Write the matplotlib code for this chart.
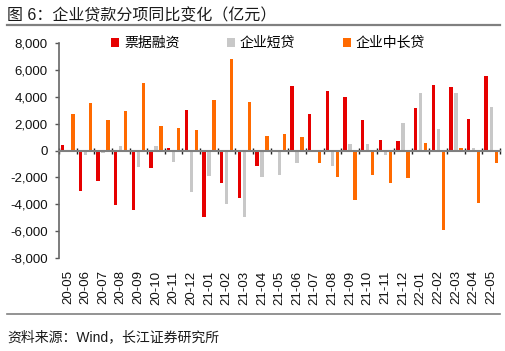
import numpy as np
import matplotlib
matplotlib.use("Agg")
import matplotlib.pyplot as plt
from matplotlib.lines import Line2D
from matplotlib.ticker import FuncFormatter

plt.rcParams['font.family'] = ['Liberation Sans', 'Noto Sans CJK SC']

# —— 数据（亿元）
months = ['20-05', '20-06', '20-07', '20-08', '20-09', '20-10', '20-11', '20-12',
          '21-01', '21-02', '21-03', '21-04', '21-05', '21-06', '21-07', '21-08',
          '21-09', '21-10', '21-11', '21-12', '22-01', '22-02', '22-03', '22-04', '22-05']
bill = [400, -3000, -2250, -4050, -4400, -1300, 150, 3050,
        -4950, -2450, -3550, -1150, 0, 4800, 2750, 4450,
        3950, 2250, 750, 700, 3150, 4850, 4700, 2350, 5550]
short = [0, -300, -200, 350, -1200, 300, -850, -3100,
         -1900, -4000, -4950, -2000, -1800, -900, -100, -1150,
         500, 500, -300, 2050, 4300, 1600, 4300, 150, 3250]
longterm = [2750, 3550, 2250, 2950, 5000, 1850, 1650, 1500,
            3750, 6800, 3600, 1050, 1200, 1000, -950, -2000,
            -3650, -1850, -2400, -2050, 550, -5900, 150, -3900, -950]
series_names = ['票据融资', '企业短贷', '企业中长贷']
colors = ['#E60000', '#C8C8C8', '#FF6A00']

W, H = 505, 351
fig = plt.figure(figsize=(W / 100, H / 100), dpi=100)
ax = fig.add_axes([59 / W, 1 - 258 / H, (500 - 59) / W, (258 - 43) / H])

x = np.arange(len(months))
off = 0.285
bw = 0.19
for k, (vals, name, c) in enumerate(zip([bill, short, longterm], series_names, colors)):
    ax.bar(x + (k - 1) * off, vals, width=bw, color=c, label=name, zorder=2)

ax.set_xlim(-0.5, len(months) - 0.5)
ax.set_ylim(-8000, 8000)
ax.set_yticks(np.arange(-8000, 8001, 2000))
ax.yaxis.set_major_formatter(FuncFormatter(lambda v, p: f"{v:,.0f}"))
ax.tick_params(axis='y', labelsize=9.5, length=3, width=1, color='#555555',
               direction='out', pad=5, labelcolor='#111111')

for s in ['top', 'right']:
    ax.spines[s].set_visible(False)
ax.spines['left'].set_color('#666666')
ax.spines['left'].set_linewidth(1.2)

# 零轴 + 类别分隔刻度
ax.spines['bottom'].set_position(('data', 0))
ax.spines['bottom'].set_color('#7F7F7F')
ax.spines['bottom'].set_linewidth(1.5)
ax.spines['bottom'].set_zorder(3)
ax.set_xticks(np.arange(-0.5, len(months), 1.0))
ax.tick_params(axis='x', direction='inout', length=4, width=1, color='#222222',
               labelbottom=False)

# 月份标签放在底部
sec = ax.secondary_xaxis('bottom')
sec.set_xticks(x)
sec.set_xticklabels(months, rotation=90)
sec.tick_params(length=0, pad=9, labelsize=9.5, labelcolor='#111111')
sec.spines['bottom'].set_visible(False)

fig.legend(loc='center', bbox_to_anchor=(268 / W, 1 - 43 / H), ncol=3, frameon=False,
           fontsize=10, handlelength=0.6, handleheight=0.6, handletextpad=0.35,
           columnspacing=3.4)

# 标题、分隔线与来源
fig.text(7 / W, 1 - 15 / H, '图 6：企业贷款分项同比变化（亿元）', fontsize=11.5,
         va='center', ha='left', color='#1a1a1a')
fig.add_artist(Line2D([7 / W, 500 / W], [1 - 25 / H, 1 - 25 / H],
                      color='#808080', linewidth=1.6))
fig.add_artist(Line2D([7 / W, 500 / W], [1 - 314 / H, 1 - 314 / H],
                      color='#808080', linewidth=1.2))
fig.text(7 / W, 1 - 337 / H, '资料来源：Wind，长江证券研究所', fontsize=10,
         va='center', ha='left', color='#1a1a1a')

fig.savefig('out.png', dpi=100)
